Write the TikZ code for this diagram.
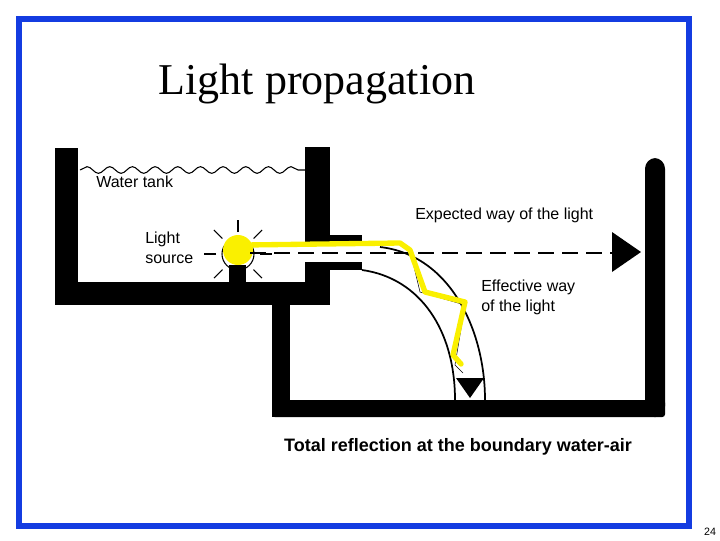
\documentclass[tikz,border=0pt]{standalone}
\usepackage{fontspec}
\setsansfont{Liberation Sans}
\setmainfont{Liberation Serif}
\usetikzlibrary{decorations.pathmorphing}
\definecolor{frameblue}{RGB}{20,60,225}
\definecolor{lightyellow}{RGB}{250,240,0}
\begin{document}
\begin{tikzpicture}[x=0.75pt,y=-0.75pt,
  lbl/.style={font=\sffamily\fontsize{12}{15}\selectfont,inner sep=0pt},
  wall/.style={fill=black}]
\useasboundingbox (0,0) rectangle (720,540);
\draw[frameblue,line width=5pt] (19,19) rectangle (689,526);
\node[font=\rmfamily\fontsize{33}{36}\selectfont] (title) at (317,84) {Light propagation};
% upper tank
\fill[wall] (55,148) rectangle (78,305);
\fill[wall] (55,282) rectangle (330,305);
\fill[wall] (305,147) rectangle (330,243);
\fill[wall] (305,235) rectangle (362,243);
\fill[wall] (305,262) rectangle (330,305);
\fill[wall] (305,262) rectangle (362,270);
% lower tank
\fill[wall] (272,282) rectangle (290,417);
\fill[wall,rounded corners=2pt] (272,400) rectangle (665,417);
\fill[wall,rounded corners=8pt] (645,158) rectangle (665,417);
% water surface
\draw[thick,decorate,decoration={snake,amplitude=2.5pt,segment length=17pt}] (80,170) -- (305,170);
% light source
\fill[wall] (229,265) rectangle (246,290);
\draw[thick] (238,254) circle (16);
\foreach \a in {0,45,90,135,180,225,270,315}
  \draw[thick] (238,254) ++(\a:22) -- ++(\a:12);
\fill[lightyellow] (238,250) circle (15);
% dashed expected path
\coordinate (ds) at (250,253);
\coordinate (de) at (612,253);
\draw[dashed,dash pattern=on 12pt off 6pt,thick] (ds) -- (de);
\fill (612,232) -- (641,252) -- (612,272) -- cycle;
% jet arcs
\draw[line width=1.3pt] (362,270) .. controls (420,278) and (455,330) .. (455,400);
\draw[line width=1.3pt] (380,247) .. controls (450,255) and (485,330) .. (485,400);
\fill (456,378) -- (484,378) -- (470,398) -- cycle;
% thin reflection lines
\draw (410,250) -- (420,292) -- (465,305) -- (455,365) -- (463,373);
% yellow light path
\draw[lightyellow,line width=4pt,line join=round,line cap=round]
  (245,245) -- (400,243) -- (410,250) -- (425,292) -- (465,302) -- (453,355) -- (461,364);
% texts
\node[lbl,anchor=west] (wt) at (96,182) {Water tank};
\node[lbl,anchor=west] (exp) at (415,215) {Expected way of the light};
\node[lbl,anchor=west,align=left] (ls) at (145,248) {Light\\source};
\node[lbl,anchor=west,align=left] (eff) at (481,297) {Effective way\\of the light};
\node[font=\sffamily\bfseries\fontsize{13.5}{16}\selectfont] (tot) at (458,447) {Total reflection at the boundary water-air};
\node[font=\sffamily\fontsize{8}{9}\selectfont] (pg) at (710,532) {24};
\end{tikzpicture}
\end{document}
